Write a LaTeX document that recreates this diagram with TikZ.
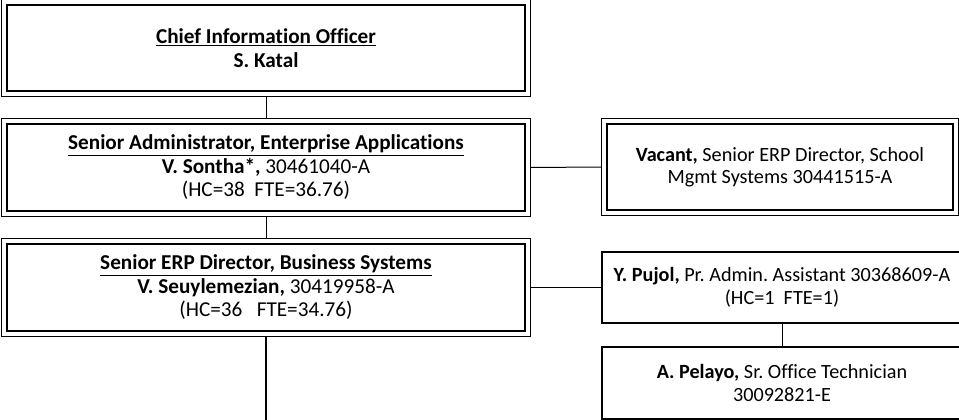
\documentclass[tikz,border=0pt]{standalone}
\usepackage{fontspec}
\setmainfont{Carlito}[Ligatures=NoCommon]
\begin{document}
\begin{tikzpicture}[x=1pt,y=-1pt,
  inbox/.style={draw, line width=1.6pt, inner sep=0pt, align=center,
    font=\fontsize{21.2}{23.5}\selectfont\frenchspacing},
  rightfont/.style={font=\fontsize{20.2}{22.5}\selectfont\frenchspacing},
  plainbox/.style={draw, line width=1.1pt, inner sep=0pt, align=center, rightfont},
  outer/.style={draw, line width=0.9pt},
  conn/.style={line width=1pt},
  thickconn/.style={line width=2.2pt}]
\useasboundingbox (0,0) rectangle (959,420);
% double boxes: inner thick node + outer thin frame
\node[inbox, minimum width=518pt, minimum height=86pt] (cio) at (266,48)
  {\textbf{\underline{Chief Information Officer}}\\ \textbf{S. Katal}};
\node[inbox, minimum width=518pt, minimum height=87pt] (sa) at (266,167.5)
  {\textbf{\underline{Senior Administrator, Enterprise Applications}}\\
   \textbf{V. Sontha*,} 30461040-A\\ (HC=38\ \ FTE=36.76)};
\node[inbox, minimum width=518pt, minimum height=87pt] (erp) at (266,287.5)
  {\textbf{\underline{Senior ERP Director, Business Systems}}\\
   \textbf{V. Seuylemezian,} 30419958-A\\ (HC=36\ \ \ FTE=34.76)};
\node[inbox, rightfont, minimum width=346pt, minimum height=86pt] (vac) at (780,167)
  {\textbf{Vacant,} Senior ERP Director, School\\ Mgmt Systems 30441515-A};
\foreach \n in {cio,sa,erp,vac}{
  \draw[outer] ([shift={(-5,-5)}]\n.north west)
    rectangle ([shift={(5,5)}]\n.south east);
}
\path (cio.south) ++(0,5) coordinate (cio-b);
\path (sa.north) ++(0,-5) coordinate (sa-t);
\path (sa.south) ++(0,5) coordinate (sa-b);
\path (erp.north) ++(0,-5) coordinate (erp-t);
\path (erp.south) ++(0,5) coordinate (erp-b);
\path (sa.east) ++(5,0) coordinate (sa-r);
\path (erp.east) ++(5,0) coordinate (erp-r);
\path (vac.west) ++(-5,0) coordinate (vac-l);
% single boxes
\node[plainbox, minimum width=360pt, minimum height=71pt] (puj) at (782,287.5)
  {\textbf{Y. Pujol,} Pr. Admin. Assistant 30368609-A\\ (HC=1\ \ FTE=1)};
\node[plainbox, minimum width=360pt, minimum height=72pt] (pel) at (782,383)
  {\textbf{A. Pelayo,} Sr. Office Technician\\ 30092821-E};
\coordinate (bottom) at (266,421);
% connectors
\draw[conn] (cio-b) -- (sa-t);
\draw[conn] (sa-b) -- (erp-t);
\draw[conn] (sa-r) -- (vac-l);
\draw[conn] (erp-r) -- (puj.west);
\draw[conn] (puj.south) -- (pel.north);
\draw[thickconn] (erp-b) -- (bottom);
\end{tikzpicture}
\end{document}
